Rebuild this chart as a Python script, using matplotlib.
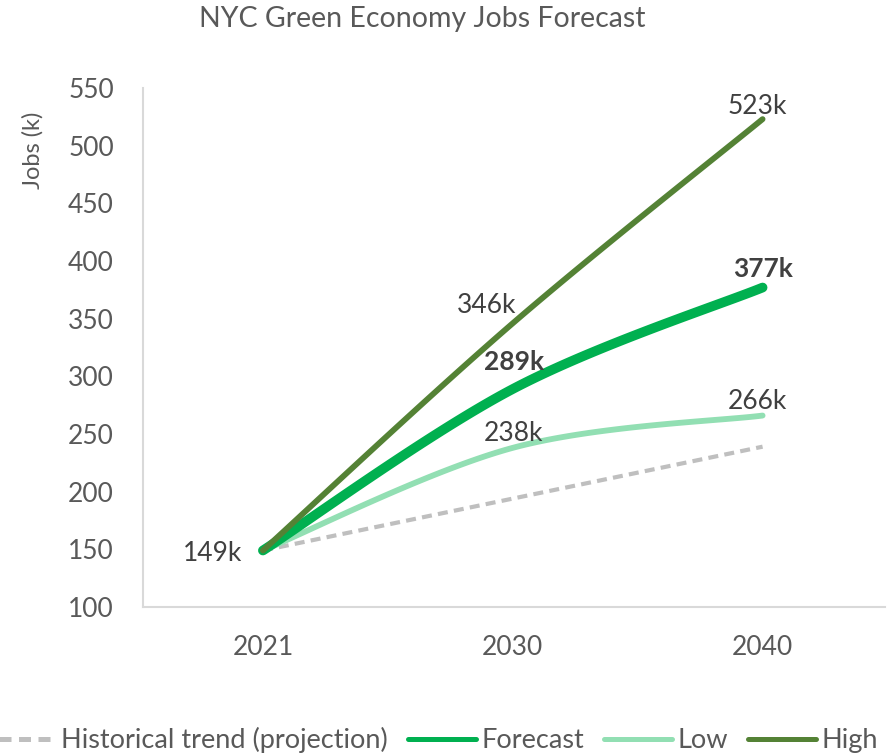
import numpy as np
import matplotlib
matplotlib.use("Agg")
import matplotlib.pyplot as plt

plt.rcParams['font.family'] = ['Lato', 'DejaVu Sans']

years = ["2021", "2030", "2040"]
historical = [149, 194, 239]
forecast = [149, 289, 377]
low = [149, 238, 266]
high = [149, 346, 523]
y_ticks = [100, 150, 200, 250, 300, 350, 400, 450, 500, 550]

TEXT = "#595959"
LABEL = "#404040"


def smooth(values, n=60):
    """Catmull-Rom style Bezier smoothing through the points."""
    x = np.arange(len(values), dtype=float)
    y = np.asarray(values, dtype=float)
    pts = np.column_stack([x, y])
    ext = np.vstack([pts[0], pts, pts[-1]])
    out = []
    for i in range(len(pts) - 1):
        p0, p1, p2, p3 = ext[i], ext[i + 1], ext[i + 2], ext[i + 3]
        c1 = p1 + (p2 - p0) / 6.0
        c2 = p2 - (p3 - p1) / 6.0
        t = np.linspace(0, 1, n)[:, None]
        seg = ((1 - t) ** 3) * p1 + 3 * ((1 - t) ** 2) * t * c1 + 3 * (1 - t) * t ** 2 * c2 + t ** 3 * p2
        out.append(seg if i == 0 else seg[1:])
    seg = np.vstack(out)
    return seg[:, 0], seg[:, 1]


fig = plt.figure(figsize=(8.95, 7.55), dpi=100)
ax = fig.add_axes([143 / 895, 1 - 607 / 755, (885 - 143) / 895, (607 - 88) / 755])

x = np.arange(len(years))
ax.plot(x, historical, color="#BFBFBF", lw=3, ls=(0, (2.4, 1.5)), label="Historical trend (projection)")
sx, sy = smooth(forecast)
ax.plot(sx, sy, color="#00B050", lw=7, solid_capstyle="round", label="Forecast", zorder=4)
sx, sy = smooth(low)
ax.plot(sx, sy, color="#92DFB3", lw=4.2, solid_capstyle="round", label="Low", zorder=3)
sx, sy = smooth(high)
ax.plot(sx, sy, color="#548235", lw=4.2, solid_capstyle="round", label="High", zorder=5)

ax.set_xlim(-0.48, 2.49)
ax.set_ylim(100, 550)
ax.set_xticks(x)
ax.set_xticklabels(years)
ax.set_yticks(y_ticks)
ax.tick_params(axis="both", length=0, labelsize=19, colors=TEXT)
ax.tick_params(axis="y", pad=21)
ax.tick_params(axis="x", pad=20)
for side in ("top", "right"):
    ax.spines[side].set_visible(False)
for side in ("left", "bottom"):
    ax.spines[side].set_color("#D9D9D9")
    ax.spines[side].set_linewidth(1.5)

# Data labels: (x index, value, offset in pixels, bold)
labels = [
    (0, high[0], (-50, -3), False),
    (1, high[1], (-26, 18), False),
    (1, forecast[1], (1, 27), True),
    (1, low[1], (1, 14), False),
    (2, high[2], (-5, 13), False),
    (2, forecast[2], (0, 19), True),
    (2, low[2], (-5, 14), False),
]
for xi, v, off, bold in labels:
    ax.annotate(f"{v}k", (xi, v), xytext=off, textcoords="offset pixels",
                ha="center", va="center", fontsize=19, color=LABEL,
                fontweight="bold" if bold else "normal", zorder=6)

fig.text(422 / 895, 1 - 19 / 755, "NYC Green Economy Jobs Forecast", ha="center", va="center",
         fontsize=20.5, color=TEXT)
fig.text(33 / 895, 1 - 150 / 755, "Jobs (k)", rotation=90, ha="center", va="center",
         fontsize=17, color=TEXT)

leg = fig.legend(loc="center", bbox_to_anchor=(433 / 895, 1 - 740 / 755), ncol=4, frameon=False,
                 fontsize=19.5, handlelength=2.5, handletextpad=0.2, columnspacing=0.75,
                 labelcolor=TEXT)
for line in leg.get_lines():
    line.set_linewidth(3.6)

fig.savefig("out.png", dpi=100)
